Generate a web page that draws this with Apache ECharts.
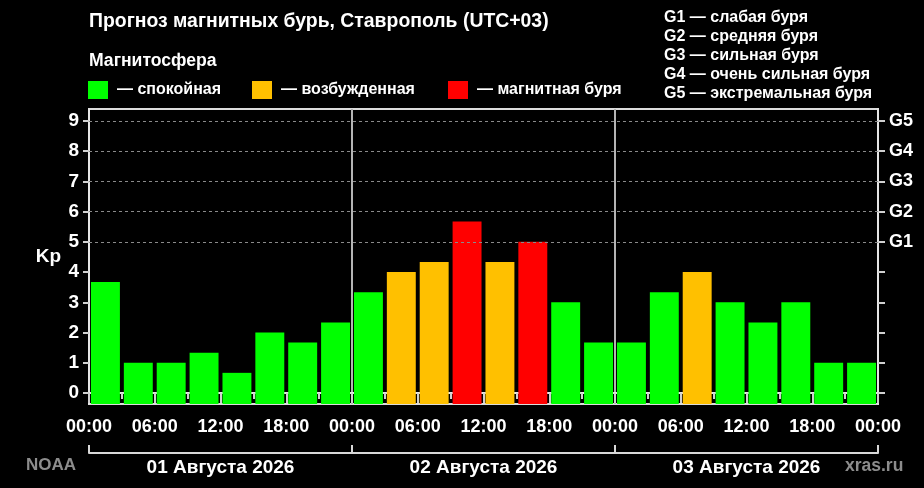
<!DOCTYPE html>
<html>
<head>
<meta charset="utf-8">
<script src="https://cdn.jsdelivr.net/npm/echarts@6/dist/echarts.min.js"></script>
<style>
  html, body { margin: 0; padding: 0; background: #000; }
  #main { width: 924px; height: 488px; }
</style>
</head>
<body>
<div id="main"></div>
<script>
var slots = [];
for (var i = 0; i < 24; i++) slots.push(i);

// Kp по трёхчасовым интервалам, 3 дня
var kpValues = [
  3.67, 1, 1, 1.33, 0.67, 2, 1.67, 2.33,
  3.33, 4, 4.33, 5.67, 4.33, 5, 3, 1.67,
  1.67, 3.33, 4, 3, 2.33, 3, 1, 1
];
var days = ['01 Августа 2026', '02 Августа 2026', '03 Августа 2026'];
var hourLabels = ['00:00', '06:00', '12:00', '18:00', '00:00', '06:00', '12:00',
                  '18:00', '00:00', '06:00', '12:00', '18:00', '00:00'];
var kpTicks = [0, 1, 2, 3, 4, 5, 6, 7, 8, 9];
var gLevels = [5, 6, 7, 8, 9];
var gNames = ['G1', 'G2', 'G3', 'G4', 'G5'];
var gLegend = [
  'G1 — слабая буря',
  'G2 — средняя буря',
  'G3 — сильная буря',
  'G4 — очень сильная буря',
  'G5 — экстремальная буря'
];
var names = ['— спокойная', '— возбужденная', '— магнитная буря'];
var colors = ['#00ff00', '#ffc000', '#ff0000'];

function level(v) {
  if (v >= 5) return 2;
  if (v >= 4) return 1;
  return 0;
}

var chartDom = document.getElementById('main');
var myChart = echarts.init(chartDom);
var option;

var fontBase = { fontFamily: 'Liberation Sans, Arial, sans-serif', fontWeight: 'bold', color: '#fff' };

var series = names.map(function (n, k) {
  var s = {
    name: n,
    type: 'bar',
    xAxisIndex: 0,
    yAxisIndex: 0,
    barWidth: '88%',
    barGap: '-100%',
    itemStyle: { color: colors[k] },
    data: kpValues.map(function (v) { return level(v) === k ? v : '-'; })
  };
  if (k === 0) {
    s.markLine = {
      silent: true,
      symbol: 'none',
      label: { show: false },
      lineStyle: { color: '#8a8a8a', type: [3, 3], width: 1 },
      data: gLevels.map(function (g) { return { yAxis: g }; })
    };
  }
  return s;
});

option = {
  backgroundColor: '#000',
  animation: false,
  title: [
    { text: 'Прогноз магнитных бурь, Ставрополь (UTC+03)', left: 84, top: 7,
      textStyle: Object.assign({}, fontBase, { fontSize: 19.4 }) },
    { text: 'Магнитосфера', left: 84, top: 47,
      textStyle: Object.assign({}, fontBase, { fontSize: 17.6 }) },
    { text: gLegend.join('\n'), left: 659, top: 3,
      textStyle: Object.assign({}, fontBase, { fontSize: 16, lineHeight: 19 }) },
    { text: 'NOAA', left: 21, top: 452,
      textStyle: Object.assign({}, fontBase, { fontSize: 17, color: '#8c8c8c' }) },
    { text: 'xras.ru', left: 840, top: 452,
      textStyle: Object.assign({}, fontBase, { fontSize: 17.5, color: '#8c8c8c' }) }
  ],
  legend: names.map(function (n, k) {
    return {
      data: [n],
      left: [88, 252, 448][k],
      top: 81,
      padding: 0,
      itemWidth: 20,
      itemHeight: 18,
      icon: 'rect',
      selectedMode: false,
      textStyle: Object.assign({}, fontBase, { fontSize: 16, padding: [0, 0, 0, 4] })
    };
  }),
  grid: {
    left: 89,
    right: 46,
    top: 109,
    bottom: 84,
    show: true,
    backgroundColor: '#000',
    borderColor: '#dcdcdc',
    borderWidth: 2
  },
  xAxis: [
    {
      type: 'category',
      data: slots,
      show: false,
      boundaryGap: true
    },
    {
      type: 'value',
      min: 0,
      max: 72,
      interval: 6,
      position: 'bottom',
      axisLine: { show: true, lineStyle: { color: '#e6e6e6', width: 2 } },
      axisTick: { show: true, length: 10, lineStyle: { color: '#d0d0d0', width: 2 } },
      minorTick: { show: true, splitNumber: 2, length: 6, lineStyle: { color: '#d0d0d0', width: 2 } },
      splitLine: { show: false },
      axisLabel: Object.assign({}, fontBase, {
        fontSize: 18, margin: 14,
        formatter: function (v) { return hourLabels[Math.round(v / 6)]; }
      })
    },
    {
      type: 'category',
      data: days,
      position: 'bottom',
      offset: 49,
      boundaryGap: true,
      axisLine: { show: true, lineStyle: { color: '#d8d8d8', width: 2 } },
      axisTick: { show: true, inside: true, length: 8, lineStyle: { color: '#d8d8d8', width: 2 } },
      splitLine: { show: true, lineStyle: { color: '#b4b4b4', width: 2 } },
      axisLabel: Object.assign({}, fontBase, { fontSize: 19, margin: 5 })
    }
  ],
  yAxis: [
    {
      type: 'value',
      min: -0.36,
      max: 9.39,
      startValue: -0.36,
      name: 'Kp',
      nameLocation: 'middle',
      nameRotate: 0,
      nameGap: 28,
      nameTextStyle: Object.assign({}, fontBase, { fontSize: 19 }),
      axisLine: { show: true, lineStyle: { color: '#e6e6e6', width: 2 } },
      axisTick: { show: true, length: 6, customValues: kpTicks, lineStyle: { color: '#d0d0d0', width: 2 } },
      splitLine: { show: false },
      axisLabel: Object.assign({}, fontBase, { fontSize: 19, margin: 10, customValues: kpTicks })
    },
    {
      type: 'value',
      min: -0.36,
      max: 9.39,
      position: 'right',
      axisLine: { show: true, lineStyle: { color: '#e6e6e6', width: 2 } },
      axisTick: { show: true, length: 7, customValues: kpTicks, lineStyle: { color: '#d0d0d0', width: 2 } },
      splitLine: { show: false },
      axisLabel: Object.assign({}, fontBase, {
        fontSize: 18, margin: 11, customValues: gLevels,
        formatter: function (v) { return gNames[gLevels.indexOf(Math.round(v))] || ''; }
      })
    }
  ],
  series: series
};

option && myChart.setOption(option);
</script>
</body>
</html>
